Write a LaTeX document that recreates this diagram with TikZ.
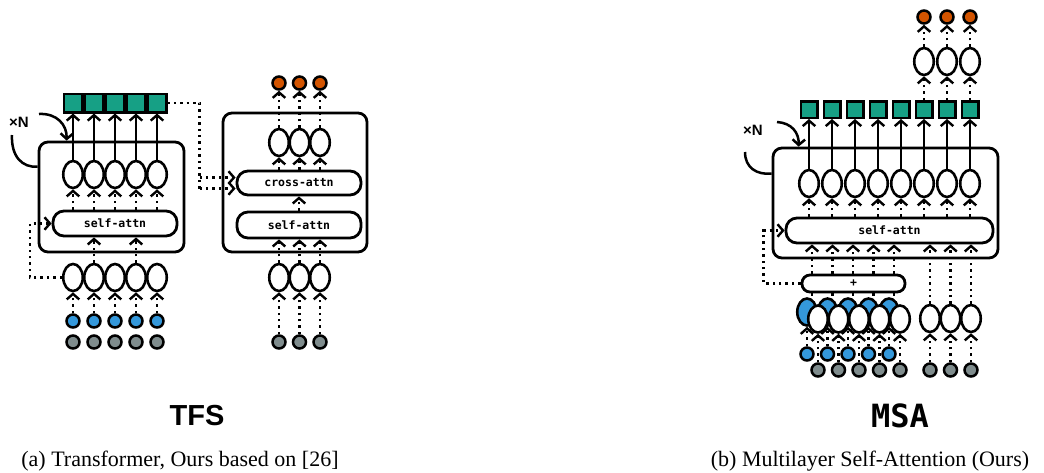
\documentclass[tikz,border=0pt]{standalone}
\usepackage{fontspec}
\setmainfont{Liberation Serif}
\setsansfont{Liberation Sans}
\setmonofont{DejaVu Sans Mono}
\usepackage{xcolor}
\usepackage{tikz}
\usetikzlibrary{positioning,shapes.geometric,arrows.meta}
\definecolor{tealc}{HTML}{16A085}
\definecolor{bluec}{HTML}{3498DB}
\definecolor{grayc}{HTML}{7F8C8D}
\definecolor{orangec}{HTML}{D35400}

\begin{document}
\begin{tikzpicture}[x=1pt,y=-1pt,
  tok/.style={ellipse,draw,fill=white,line width=2.6pt,minimum width=19.5pt,minimum height=27pt,inner sep=0pt},
  emb/.style={draw,fill=tealc,line width=2.5pt,minimum size=18.5pt,inner sep=0pt},
  ball/.style={circle,draw,fill=#1,line width=2.5pt,minimum size=13pt,inner sep=0pt},
  blk/.style={draw,line width=2.8pt,rounded corners=9pt,inner sep=0pt},
  attn/.style={draw,fill=white,line width=2.8pt,rounded corners=11pt,inner sep=0pt,font=\ttfamily\bfseries\fontsize{11.5}{11.5}\selectfont},
  dotline/.style={line width=2.4pt,dash pattern=on 2.4pt off 4pt},
  dotarr/.style={dotline,-{Straight Barb[length=5.5pt,width=12.5pt]}},
  solarr/.style={line width=2.4pt,-{Straight Barb[length=5.5pt,width=12.5pt]}},
  loopline/.style={line width=2.5pt},
  times/.style={font=\sffamily\bfseries\fontsize{15}{15}\selectfont}]
\useasboundingbox (0,0) rectangle (1044,472);

\node[blk,minimum width=145pt,minimum height=110pt] (enc) at (111.5,197) {};
\node[attn,minimum width=124pt,minimum height=25pt] (encsa) at (115,223.5) {self-attn};
\foreach \i in {1,...,5}{
  \node[emb] (eq\i) at (52+21*\i,103) {};
  \node[tok] (eu\i) at (52+21*\i,174.5) {};
  \node[tok] (el\i) at (52+21*\i,277.5) {};
  \node[ball=bluec] (ep\i) at (52+21*\i,321) {};
  \node[ball=grayc] (ex\i) at (52+21*\i,342) {};
  \draw[solarr] (eu\i) -- (eq\i);
  \draw[dotarr] (encsa.north -| eu\i) -- (eu\i);
  \draw[dotarr] (ep\i) -- (el\i);
}
\foreach \i in {2,4}
  \draw[dotarr] (el\i) -- (encsa.south -| el\i);
\draw[dotarr] (el1.west) -- ++(-32,0) |- (encsa.west);
\node[times] (encn) at (19,122.5) {×N};
\coordinate (encla) at (39,114);
\coordinate (enclb) at (12,135);
\draw[loopline,-{Straight Barb[length=5.5pt,width=12.5pt]}] (encla) .. controls (57,113) and (67,125) .. ([xshift=29pt]enc.north west);
\draw[loopline] (enclb) .. controls (11,156) and (22,168) .. ([yshift=-26pt]enc.north west);

\node[blk,minimum width=144pt,minimum height=139pt] (dec) at (295,182.5) {};
\node[attn,minimum width=124pt,minimum height=24pt] (decca) at (299,183) {cross-attn};
\node[attn,minimum width=124pt,minimum height=26pt] (decsa) at (299,225) {self-attn};
\foreach \i in {1,2,3}{
  \node[ball=orangec] (do\i) at (258.5+20.5*\i,83) {};
  \node[tok] (du\i) at (258.5+20.5*\i,142.5) {};
  \node[tok] (dl\i) at (258.5+20.5*\i,277.5) {};
  \node[ball=grayc] (dx\i) at (258.5+20.5*\i,342) {};
  \draw[dotarr] (du\i) -- (do\i);
  \draw[dotarr] (decca.north -| du\i) -- (du\i);
  \draw[dotarr] (dl\i) -- (decsa.south -| dl\i);
  \draw[dotarr] (dx\i) -- (dl\i);
}
\draw[dotarr] (decsa) -- (decca);
\draw[dotline] (eq5.east) -| ([xshift=-36pt,yshift=-5.5pt]decca.west);
\draw[dotarr] ([xshift=-36pt,yshift=-5.5pt]decca.west) -- ([yshift=-5.5pt]decca.west);
\draw[dotarr] ([xshift=-36pt,yshift=5.5pt]decca.west) -- ([yshift=5.5pt]decca.west);

\node[blk,minimum width=225pt,minimum height=110pt] (msa) at (885.5,203) {};
\node[attn,minimum width=207pt,minimum height=25pt] (msasa) at (889.5,230.5) {self-attn};
\node[attn,minimum width=103pt,minimum height=17pt,rounded corners=8pt] (plus) at (853.5,283.5) {+};
\foreach \i in {1,...,8}{
  \node[emb,minimum size=16.5pt] (mq\i) at (786+23*\i,109.5) {};
  \node[tok] (mu\i) at (786+23*\i,183.5) {};
  \draw[solarr] (mu\i) -- (mq\i);
  \draw[dotarr] (msasa.north -| mu\i) -- (mu\i);
}
\foreach \i in {6,7,8}{
  \node[tok] (mt\i) at (786+23*\i,61.5) {};
  \node[ball=orangec] (mo\i) at (786+23*\i,17) {};
  \draw[dotarr] (mq\i) -- (mt\i);
  \draw[dotarr] (mt\i) -- (mo\i);
}
\foreach \i in {1,...,5}{
  \coordinate (mc\i) at (791.5+20.5*\i,300);
  \draw[dotarr] (mc\i |- plus.north) -- (mc\i |- msasa.south);
  \draw[dotline] (mc\i |- plus.south) -- (mc\i);
  \node[tok,fill=bluec] (mbe\i) at (786.5+20.5*\i,312) {};
  \node[ball=bluec] (mb\i) at (786.5+20.5*\i,354) {};
  \draw[dotarr] (mb\i) -- (mbe\i);
}
\foreach \i in {1,...,5}{
  \node[tok] (mwe\i) at (797.5+20.5*\i,319) {};
  \node[ball=grayc] (mg\i) at (797.5+20.5*\i,370) {};
  \draw[dotarr] (mg\i) -- (mwe\i);
}
\foreach \i in {1,2,3}{
  \node[tok] (mr\i) at (909.5+20.5*\i,318.5) {};
  \node[ball=grayc] (mrx\i) at (909.5+20.5*\i,370) {};
  \draw[dotarr] (mr\i) -- (msasa.south -| mr\i);
  \draw[dotarr] (mrx\i) -- (mr\i);
}
\draw[dotarr] (plus.west) -- ++(-37,0) |- (msasa.west);
\node[times] (msan) at (753,130) {×N};
\coordinate (msala) at (777,122);
\coordinate (msalb) at (745,152);
\draw[loopline,-{Straight Barb[length=5.5pt,width=12.5pt]}] (msala) .. controls (792,123) and (799,133) .. ([xshift=27pt]msa.north west);
\draw[loopline] (msalb) .. controls (745,168) and (757,175) .. ([yshift=-27pt]msa.north west);

\node[font=\sffamily\bfseries\fontsize{29}{29}\selectfont,anchor=base] (tfs) at (197,425) {TFS};
\node[font=\ttfamily\bfseries\fontsize{32}{32}\selectfont,anchor=base] (msat) at (900,427) {MSA};
\node[font=\fontsize{22}{22}\selectfont,anchor=base] (capa) at (180,466) {(a) Transformer, Ours based on [26]};
\node[font=\fontsize{22}{22}\selectfont,anchor=base] (capb) at (870,466) {(b) Multilayer Self-Attention (Ours)};
\end{tikzpicture}
\end{document}
